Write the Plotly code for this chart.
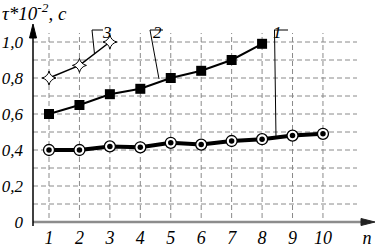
import plotly.graph_objects as go

# ---- data ----
n_vals = [1, 2, 3, 4, 5, 6, 7, 8, 9, 10]
series1 = [0.40, 0.40, 0.42, 0.415, 0.44, 0.43, 0.45, 0.46, 0.48, 0.49]
n_vals2 = [1, 2, 3, 4, 5, 6, 7, 8]
series2 = [0.60, 0.65, 0.71, 0.74, 0.80, 0.84, 0.90, 0.99]
n_vals3 = [1, 2, 3]
series3 = [0.80, 0.87, 1.00]
x_tick_vals = [1, 2, 3, 4, 5, 6, 7, 8, 9, 10]
x_tick_text = ["1", "2", "3", "4", "5", "6", "7", "8", "9", "10"]
x_axis_name = "n"
y_tick_vals = [0, 0.2, 0.4, 0.6, 0.8, 1.0]
y_tick_text = ["0", "0,2", "0,4", "0,6", "0,8", "1,0"]

W, H = 379, 246
# plot area in pixels: left 33, right 374, top 25, bottom 222
ML, MR, MT, MB = 33, W - 374, 25, H - 222
X0PX, XUNIT = 18.56, 30.44   # pixel of x=0, pixels per unit
Y0PX, YUNIT = 222.0, 180.0   # pixel of y=0, pixels per unit

def dx(px):
    return (px - X0PX) / XUNIT

def dy(py):
    return (Y0PX - py) / YUNIT

def px_paper_x(px):
    return (px - ML) / (W - ML - MR)

def px_paper_y(py):
    return (H - MB - py) / (H - MT - MB)

xr = [dx(33), dx(374)]
yr = [dy(222), dy(25)]

FONT = "Liberation Serif"
GRID = "#8a8a8a"

fig = go.Figure()

# grid (dashed), stopping short of the arrows
shapes = []
for xv in x_tick_vals:
    shapes.append(dict(type="line", xref="x", yref="y", x0=xv, x1=xv, y0=dy(226), y1=dy(33),
                       line=dict(color=GRID, width=1, dash="5px,3px"), layer="below"))
for k in range(1, 11):
    yv = k / 10
    shapes.append(dict(type="line", xref="x", yref="y", x0=xr[0], x1=dx(357), y0=yv, y1=yv,
                       line=dict(color=GRID, width=1, dash="5px,3px"), layer="below"))

# axes with arrowheads (paper coordinates, not clipped)
shapes += [
    dict(type="line", xref="paper", yref="paper", x0=px_paper_x(33), x1=px_paper_x(366),
         y0=px_paper_y(222), y1=px_paper_y(222), line=dict(color="#8c8c8c", width=2.5)),
    dict(type="path", xref="paper", yref="paper",
         path=f"M {px_paper_x(361)},{px_paper_y(218.5)} L {px_paper_x(375)},{px_paper_y(222)} "
              f"L {px_paper_x(361)},{px_paper_y(225.5)} Z",
         fillcolor="#222222", line=dict(color="#222222", width=1)),
    dict(type="line", xref="paper", yref="paper", x0=px_paper_x(33), x1=px_paper_x(33),
         y0=px_paper_y(226), y1=px_paper_y(34), line=dict(color="black", width=1.5)),
    dict(type="path", xref="paper", yref="paper",
         path=f"M {px_paper_x(29.5)},{px_paper_y(38)} L {px_paper_x(33)},{px_paper_y(24)} "
              f"L {px_paper_x(36.5)},{px_paper_y(38)} Z",
         fillcolor="black", line=dict(color="black", width=1)),
]

# leader lines for curve labels
LL = dict(color="black", width=1)
shapes += [
    dict(type="line", xref="x", yref="y", x0=dx(92), x1=dx(103), y0=dy(30), y1=dy(30), line=LL),
    dict(type="line", xref="x", yref="y", x0=dx(92), x1=dx(94.5), y0=dy(30), y1=dy(54), line=LL),
    dict(type="line", xref="x", yref="y", x0=dx(150), x1=dx(163), y0=dy(30), y1=dy(30), line=LL),
    dict(type="line", xref="x", yref="y", x0=dx(150), x1=dx(159), y0=dy(30), y1=dy(79), line=LL),
    dict(type="line", xref="x", yref="y", x0=dx(274), x1=dx(288), y0=dy(30), y1=dy(30), line=LL),
    dict(type="line", xref="x", yref="y", x0=dx(274.5), x1=dx(276), y0=dy(30), y1=dy(138), line=LL),
]

# series 1: thick line, ringed dots
fig.add_trace(go.Scatter(x=n_vals, y=series1, mode="lines", line=dict(color="black", width=4),
                         hoverinfo="skip", showlegend=False))
fig.add_trace(go.Scatter(x=n_vals, y=series1, mode="markers",
                         marker=dict(symbol="circle", size=11, color="white",
                                     line=dict(color="black", width=1.3)),
                         showlegend=False))
fig.add_trace(go.Scatter(x=n_vals, y=series1, mode="markers",
                         marker=dict(symbol="circle", size=5.5, color="black"),
                         showlegend=False))
# series 2: squares
fig.add_trace(go.Scatter(x=n_vals2, y=series2, mode="lines+markers",
                         line=dict(color="black", width=2),
                         marker=dict(symbol="square", size=10, color="black"),
                         showlegend=False))
# series 3: open stars
fig.add_trace(go.Scatter(x=n_vals3, y=series3, mode="lines+markers",
                         line=dict(color="black", width=1.5),
                         marker=dict(symbol="star-diamond", size=10, color="white",
                                     line=dict(color="black", width=1)),
                         showlegend=False))

itfont = dict(family=FONT, size=17, color="black", style="italic")
annotations = [
    dict(xref="paper", yref="paper", x=px_paper_x(0), y=px_paper_y(12), xanchor="left", yanchor="middle",
         showarrow=False, text="τ*10<sup>-2</sup>,&nbsp;c",
         font=dict(family=FONT, size=19, color="black", style="italic")),
    dict(xref="paper", yref="paper", x=px_paper_x(100), y=px_paper_y(21), showarrow=False, text="3", font=itfont),
    dict(xref="paper", yref="paper", x=px_paper_x(157), y=px_paper_y(21), showarrow=False, text="2", font=itfont),
    dict(xref="paper", yref="paper", x=px_paper_x(284), y=px_paper_y(21), showarrow=False, text="1", font=itfont),
]

fig.update_layout(
    template="none",
    width=W, height=H, margin=dict(l=ML, r=MR, t=MT, b=MB, pad=0),
    paper_bgcolor="white", plot_bgcolor="white",
    shapes=shapes, annotations=annotations, showlegend=False,
    xaxis=dict(range=xr, showgrid=False, zeroline=False, showline=False, automargin=False,
               tickvals=x_tick_vals + [dx(367)], ticktext=x_tick_text + [x_axis_name],
               ticks="", ticklabelstandoff=3,
               tickfont=dict(family=FONT, size=18, color="black", style="italic")),
    yaxis=dict(range=yr, showgrid=False, zeroline=False, showline=False, automargin=False,
               tickvals=y_tick_vals, ticktext=y_tick_text, ticks="", ticklabelstandoff=9,
               tickfont=dict(family=FONT, size=17, color="black", style="italic")),
)

fig.write_html("out.html", config={"displayModeBar": False},
               post_script="document.body.style.margin='0';document.body.style.overflow='hidden';")
